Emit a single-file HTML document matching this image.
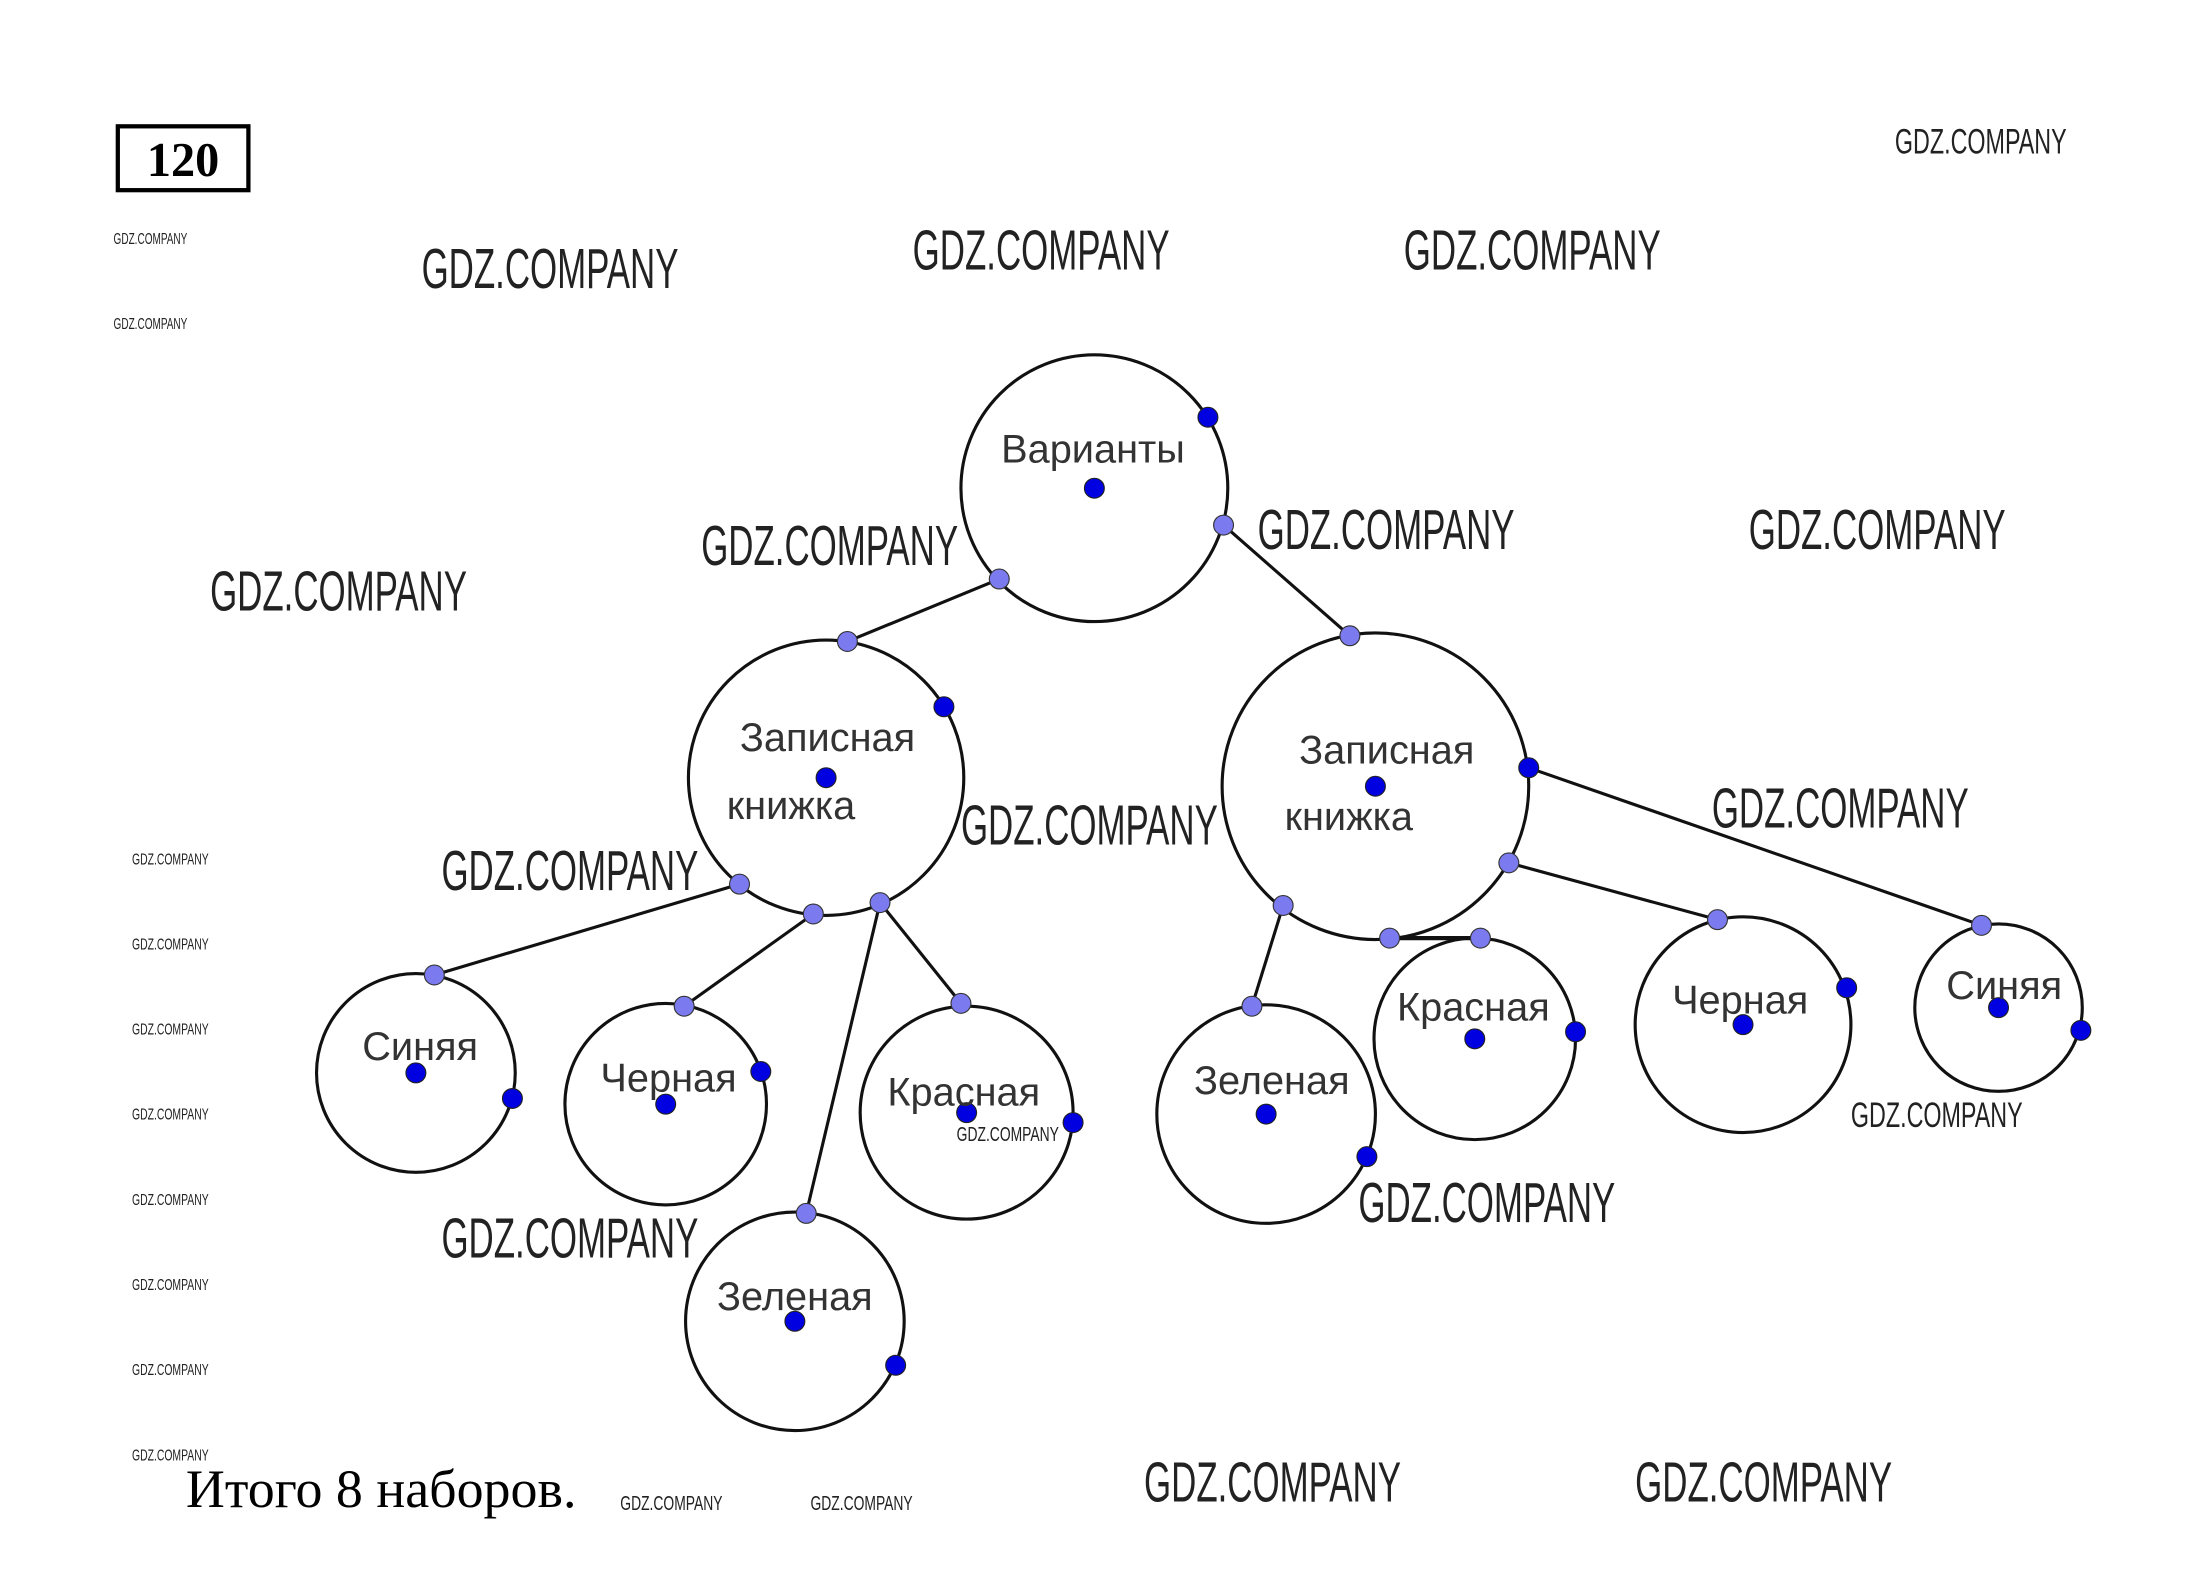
<!DOCTYPE html>
<html><head><meta charset="utf-8"><style>
html,body{margin:0;padding:0;background:#fff;}
svg{display:block;}
.w{font-family:"Liberation Sans",sans-serif;fill:#222;}
.l{font-family:"Liberation Sans",sans-serif;font-size:28px;fill:#333;}
</style></head><body>
<svg width="2193" height="1581" viewBox="0 0 1545 1114" preserveAspectRatio="none" xmlns="http://www.w3.org/2000/svg">
<rect width="1545" height="1114" fill="#fff"/>
<g stroke="#111" stroke-width="2.2" fill="none">
<circle cx="771" cy="344" r="94"/>
<circle cx="582" cy="548" r="97"/>
<circle cx="969" cy="554" r="108"/>
<circle cx="293" cy="756" r="70"/>
<circle cx="469" cy="778" r="71"/>
<circle cx="681" cy="784" r="75"/>
<circle cx="560" cy="931" r="77"/>
<circle cx="892" cy="785" r="77"/>
<circle cx="1039" cy="732" r="71"/>
<circle cx="1228" cy="722" r="76"/>
<circle cx="1408" cy="710" r="59"/>
<line x1="704" y1="408" x2="597" y2="452"/>
<line x1="862" y1="370" x2="951" y2="448"/>
<line x1="521" y1="623" x2="306" y2="687"/>
<line x1="573" y1="644" x2="482" y2="709"/>
<line x1="620" y1="636" x2="677" y2="707"/>
<line x1="620" y1="636" x2="568" y2="855"/>
<line x1="904" y1="638" x2="882" y2="709"/>
<line x1="979" y1="661" x2="1043" y2="661" stroke-width="3"/>
<line x1="1063" y1="608" x2="1210" y2="648"/>
<line x1="1077" y1="541" x2="1396" y2="652"/>
</g>
<g fill="#7b7bef" stroke="#333" stroke-width="0.8">
<circle cx="862" cy="370" r="7"/><circle cx="704" cy="408" r="7"/><circle cx="597" cy="452" r="7"/>
<circle cx="951" cy="448" r="7"/><circle cx="521" cy="623" r="7"/><circle cx="573" cy="644" r="7"/>
<circle cx="620" cy="636" r="7"/><circle cx="306" cy="687" r="7"/><circle cx="482" cy="709" r="7"/>
<circle cx="677" cy="707" r="7"/><circle cx="568" cy="855" r="7"/><circle cx="904" cy="638" r="7"/>
<circle cx="882" cy="709" r="7"/><circle cx="979" cy="661" r="7"/><circle cx="1043" cy="661" r="7"/>
<circle cx="1063" cy="608" r="7"/><circle cx="1210" cy="648" r="7"/><circle cx="1396" cy="652" r="7"/>
</g>
<g fill="#0000e0" stroke="#222" stroke-width="0.8">
<circle cx="851" cy="294" r="7"/><circle cx="771" cy="344" r="7"/><circle cx="665" cy="498" r="7"/>
<circle cx="582" cy="548" r="7"/><circle cx="969" cy="554" r="7"/><circle cx="1077" cy="541" r="7"/>
<circle cx="293" cy="756" r="7"/><circle cx="361" cy="774" r="7"/><circle cx="469" cy="778" r="7"/>
<circle cx="536" cy="755" r="7"/><circle cx="681" cy="784" r="7"/><circle cx="756" cy="791" r="7"/>
<circle cx="560" cy="931" r="7"/><circle cx="631" cy="962" r="7"/><circle cx="892" cy="785" r="7"/>
<circle cx="963" cy="815" r="7"/><circle cx="1039" cy="732" r="7"/><circle cx="1110" cy="727" r="7"/>
<circle cx="1228" cy="722" r="7"/><circle cx="1301" cy="696" r="7"/><circle cx="1408" cy="710" r="7"/>
<circle cx="1466" cy="726" r="7"/>
</g>
<g class="l">
<text x="770" y="326" text-anchor="middle">Варианты</text>
<text x="583" y="529" text-anchor="middle">Записная</text>
<text x="512" y="577">книжка</text>
<text x="977" y="538" text-anchor="middle">Записная</text>
<text x="905" y="585">книжка</text>
<text x="296" y="747" text-anchor="middle">Синяя</text>
<text x="471" y="769" text-anchor="middle">Черная</text>
<text x="679" y="779" text-anchor="middle">Красная</text>
<text x="560" y="923" text-anchor="middle">Зеленая</text>
<text x="896" y="771" text-anchor="middle">Зеленая</text>
<text x="1038" y="719" text-anchor="middle">Красная</text>
<text x="1226" y="714" text-anchor="middle">Черная</text>
<text x="1412" y="704" text-anchor="middle">Синяя</text>
</g>
<g class="w" font-size="40">
<text x="297" y="203" textLength="181" lengthAdjust="spacingAndGlyphs">GDZ.COMPANY</text>
<text x="643" y="190" textLength="181" lengthAdjust="spacingAndGlyphs">GDZ.COMPANY</text>
<text x="989" y="190" textLength="181" lengthAdjust="spacingAndGlyphs">GDZ.COMPANY</text>
<text x="494" y="398" textLength="181" lengthAdjust="spacingAndGlyphs">GDZ.COMPANY</text>
<text x="148" y="430" textLength="181" lengthAdjust="spacingAndGlyphs">GDZ.COMPANY</text>
<text x="886" y="387" textLength="181" lengthAdjust="spacingAndGlyphs">GDZ.COMPANY</text>
<text x="1232" y="387" textLength="181" lengthAdjust="spacingAndGlyphs">GDZ.COMPANY</text>
<text x="311" y="627" textLength="181" lengthAdjust="spacingAndGlyphs">GDZ.COMPANY</text>
<text x="677" y="595" textLength="181" lengthAdjust="spacingAndGlyphs">GDZ.COMPANY</text>
<text x="1206" y="583" textLength="181" lengthAdjust="spacingAndGlyphs">GDZ.COMPANY</text>
<text x="311" y="886" textLength="181" lengthAdjust="spacingAndGlyphs">GDZ.COMPANY</text>
<text x="957" y="861" textLength="181" lengthAdjust="spacingAndGlyphs">GDZ.COMPANY</text>
<text x="806" y="1058" textLength="181" lengthAdjust="spacingAndGlyphs">GDZ.COMPANY</text>
<text x="1152" y="1058" textLength="181" lengthAdjust="spacingAndGlyphs">GDZ.COMPANY</text>
</g>
<g class="w" font-size="25">
<text x="1335" y="108" textLength="121" lengthAdjust="spacingAndGlyphs">GDZ.COMPANY</text>
<text x="1304" y="794" textLength="121" lengthAdjust="spacingAndGlyphs">GDZ.COMPANY</text>
</g>
<g class="w" font-size="14">
<text x="674" y="804" textLength="72" lengthAdjust="spacingAndGlyphs">GDZ.COMPANY</text>
<text x="437" y="1064" textLength="72" lengthAdjust="spacingAndGlyphs">GDZ.COMPANY</text>
<text x="571" y="1064" textLength="72" lengthAdjust="spacingAndGlyphs">GDZ.COMPANY</text>
</g>
<g class="w" font-size="11">
<text x="80" y="172" textLength="52" lengthAdjust="spacingAndGlyphs">GDZ.COMPANY</text>
<text x="80" y="232" textLength="52" lengthAdjust="spacingAndGlyphs">GDZ.COMPANY</text>
<text x="93" y="609" textLength="54" lengthAdjust="spacingAndGlyphs">GDZ.COMPANY</text>
<text x="93" y="669" textLength="54" lengthAdjust="spacingAndGlyphs">GDZ.COMPANY</text>
<text x="93" y="729" textLength="54" lengthAdjust="spacingAndGlyphs">GDZ.COMPANY</text>
<text x="93" y="789" textLength="54" lengthAdjust="spacingAndGlyphs">GDZ.COMPANY</text>
<text x="93" y="849" textLength="54" lengthAdjust="spacingAndGlyphs">GDZ.COMPANY</text>
<text x="93" y="909" textLength="54" lengthAdjust="spacingAndGlyphs">GDZ.COMPANY</text>
<text x="93" y="969" textLength="54" lengthAdjust="spacingAndGlyphs">GDZ.COMPANY</text>
<text x="93" y="1029" textLength="54" lengthAdjust="spacingAndGlyphs">GDZ.COMPANY</text>
</g>
<rect x="83" y="89" width="92" height="45" fill="none" stroke="#000" stroke-width="3"/>
<text x="129" y="124" text-anchor="middle" font-family="Liberation Serif,serif" font-weight="bold" font-size="34" fill="#000">120</text>
<text x="131" y="1062" font-family="Liberation Serif,serif" font-size="38" fill="#000">Итого 8 наборов.</text>
</svg>
</body></html>
